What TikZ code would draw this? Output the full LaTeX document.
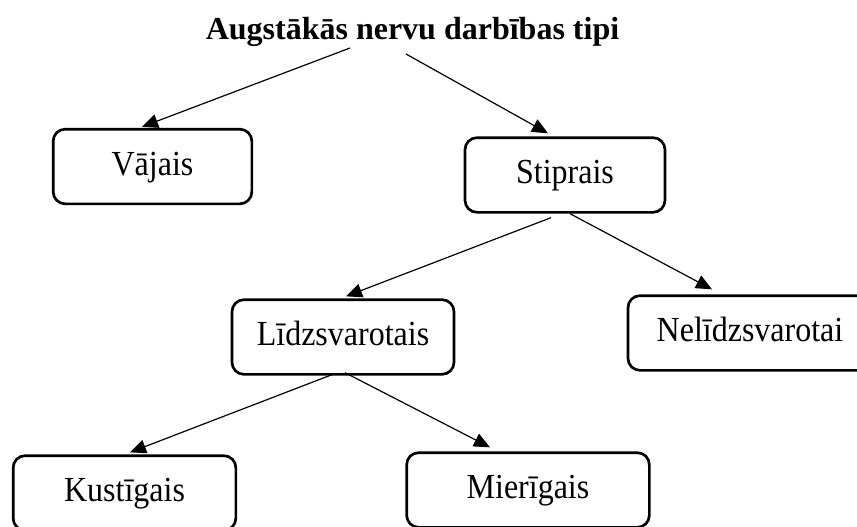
\documentclass[tikz,border=0pt]{standalone}
\usepackage{fontspec}
\usepackage{graphicx}
\setmainfont{Liberation Serif}
\usetikzlibrary{arrows.meta,calc}
% box labels are set a little taller than the plain face
\newcommand{\tallface}[1]{\scalebox{1}[1.1]{#1}}
\begin{document}
\begin{tikzpicture}[x=0.75pt,y=-0.75pt,
  box/.style={draw,line width=2pt,rounded corners=9pt,minimum height=56pt,
    inner sep=0pt,text height=19pt,text depth=6.25pt,
    font=\fontsize{24}{28}\selectfont},
  link/.style={line width=0.9pt,-{Triangle[length=12pt,width=10.5pt]}}]
\useasboundingbox (0,0) rectangle (857,526);
\clip (0,0) rectangle (857,526);

% heading
\node[font=\bfseries\fontsize{24}{28}\selectfont,anchor=base,inner sep=0pt]
  (title) at (412.5,39) {Augstākās nervu darbības tipi};

% type boxes
\node[box,minimum width=149pt] (vajais)   at (152.5,166.5) {\tallface{Vājais}};
\node[box,minimum width=150pt] (stiprais) at (565,175)     {\tallface{Stiprais}};
\node[box,minimum width=166.5pt] (lidz)   at (343,337)     {\tallface{Līdzsvarotais}};
\node[box,minimum width=183pt] (nelidz)   at (750,333)     {\tallface{Nelīdzsvarotai}};
\node[box,minimum width=167pt] (kust)     at (124.5,493)   {\tallface{Kustīgais}};
\node[box,minimum width=182pt] (mier)     at (528,490)     {\tallface{Mierīgais}};

% connectors
\draw[link] ($(title.base)+(-62.5,9)$) -- ($(vajais.north)+(-10.5,-1)$);
\draw[link] ($(title.base)+(-6.5,15)$) -- ($(stiprais.north)+(-17,-3)$);
\draw[link] ($(stiprais.south)+(-14,4)$) -- ($(lidz.north)+(3,-2)$);
\draw[link] ($(stiprais.south)+(5,0)$) -- ($(nelidz.north)+(-38,-5)$);
\draw[link] ($(lidz.south)+(-11,-1)$) -- ($(kust.north)+(5.5,-2)$);
\draw[link] ($(lidz.south)+(2,-3)$) -- ($(mier.north)+(-38,-4)$);
\end{tikzpicture}
\end{document}
